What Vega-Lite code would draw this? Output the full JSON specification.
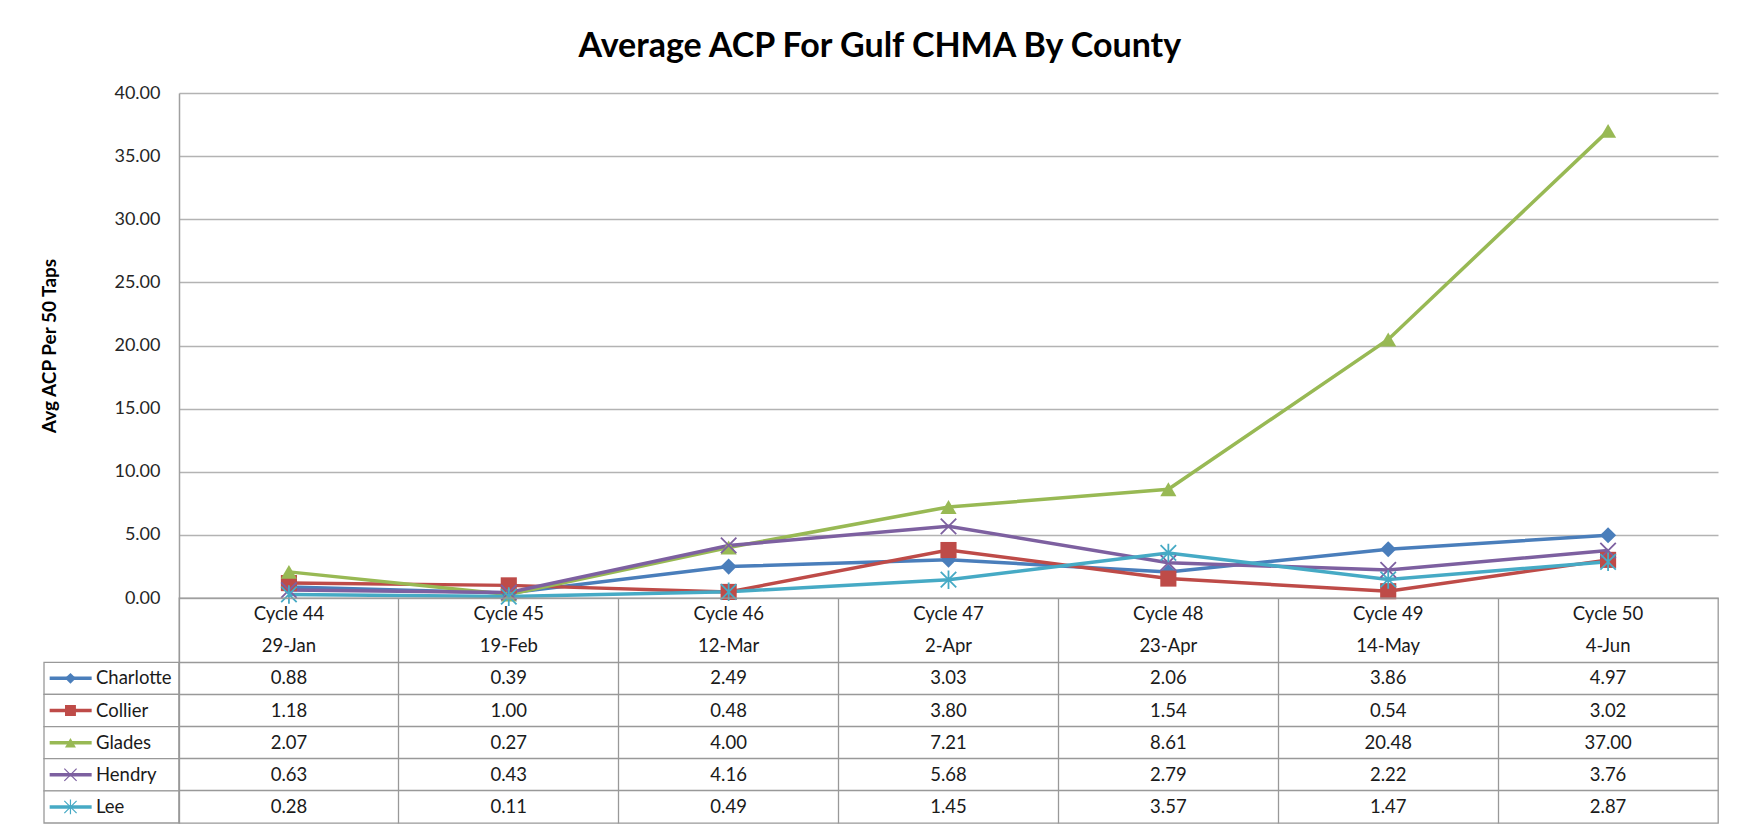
{
  "$schema": "https://vega.github.io/schema/vega-lite/v6.json",
  "background": "white",
  "padding": {"left": 40, "top": 30, "right": 20, "bottom": 6},
  "title": {"text": "Average ACP For Gulf CHMA By County", "font": "Lato", "fontSize": 34, "fontWeight": "bold", "color": "#000000", "anchor": "middle", "offset": 20},
  "config": {"view": {"stroke": null}, "font": "Lato"},
  "datasets": {
    "acp": [
      {"county": "Charlotte", "cycle": "Cycle 44", "date": "29-Jan", "value": 0.88},
      {"county": "Charlotte", "cycle": "Cycle 45", "date": "19-Feb", "value": 0.39},
      {"county": "Charlotte", "cycle": "Cycle 46", "date": "12-Mar", "value": 2.49},
      {"county": "Charlotte", "cycle": "Cycle 47", "date": "2-Apr", "value": 3.03},
      {"county": "Charlotte", "cycle": "Cycle 48", "date": "23-Apr", "value": 2.06},
      {"county": "Charlotte", "cycle": "Cycle 49", "date": "14-May", "value": 3.86},
      {"county": "Charlotte", "cycle": "Cycle 50", "date": "4-Jun", "value": 4.97},
      {"county": "Collier", "cycle": "Cycle 44", "date": "29-Jan", "value": 1.18},
      {"county": "Collier", "cycle": "Cycle 45", "date": "19-Feb", "value": 1.00},
      {"county": "Collier", "cycle": "Cycle 46", "date": "12-Mar", "value": 0.48},
      {"county": "Collier", "cycle": "Cycle 47", "date": "2-Apr", "value": 3.80},
      {"county": "Collier", "cycle": "Cycle 48", "date": "23-Apr", "value": 1.54},
      {"county": "Collier", "cycle": "Cycle 49", "date": "14-May", "value": 0.54},
      {"county": "Collier", "cycle": "Cycle 50", "date": "4-Jun", "value": 3.02},
      {"county": "Glades", "cycle": "Cycle 44", "date": "29-Jan", "value": 2.07},
      {"county": "Glades", "cycle": "Cycle 45", "date": "19-Feb", "value": 0.27},
      {"county": "Glades", "cycle": "Cycle 46", "date": "12-Mar", "value": 4.00},
      {"county": "Glades", "cycle": "Cycle 47", "date": "2-Apr", "value": 7.21},
      {"county": "Glades", "cycle": "Cycle 48", "date": "23-Apr", "value": 8.61},
      {"county": "Glades", "cycle": "Cycle 49", "date": "14-May", "value": 20.48},
      {"county": "Glades", "cycle": "Cycle 50", "date": "4-Jun", "value": 37.00},
      {"county": "Hendry", "cycle": "Cycle 44", "date": "29-Jan", "value": 0.63},
      {"county": "Hendry", "cycle": "Cycle 45", "date": "19-Feb", "value": 0.43},
      {"county": "Hendry", "cycle": "Cycle 46", "date": "12-Mar", "value": 4.16},
      {"county": "Hendry", "cycle": "Cycle 47", "date": "2-Apr", "value": 5.68},
      {"county": "Hendry", "cycle": "Cycle 48", "date": "23-Apr", "value": 2.79},
      {"county": "Hendry", "cycle": "Cycle 49", "date": "14-May", "value": 2.22},
      {"county": "Hendry", "cycle": "Cycle 50", "date": "4-Jun", "value": 3.76},
      {"county": "Lee", "cycle": "Cycle 44", "date": "29-Jan", "value": 0.28},
      {"county": "Lee", "cycle": "Cycle 45", "date": "19-Feb", "value": 0.11},
      {"county": "Lee", "cycle": "Cycle 46", "date": "12-Mar", "value": 0.49},
      {"county": "Lee", "cycle": "Cycle 47", "date": "2-Apr", "value": 1.45},
      {"county": "Lee", "cycle": "Cycle 48", "date": "23-Apr", "value": 3.57},
      {"county": "Lee", "cycle": "Cycle 49", "date": "14-May", "value": 1.47},
      {"county": "Lee", "cycle": "Cycle 50", "date": "4-Jun", "value": 2.87}
    ]
  },
  "columns": 2,
  "spacing": 0,
  "bounds": "flush",
  "align": "each",
  "concat": [
    {
      "width": 135,
      "height": 505,
      "data": {"values": [{}]},
      "mark": {"type": "point", "opacity": 0},
      "encoding": {}
    },
    {
      "width": 1539,
      "height": 505,
      "data": {"name": "acp"},
      "encoding": {
        "x": {"field": "cycle", "type": "nominal", "sort": null, "scale": {"type": "point", "domain": ["Cycle 44", "Cycle 45", "Cycle 46", "Cycle 47", "Cycle 48", "Cycle 49", "Cycle 50"], "padding": 0.5}, "axis": null},
        "y": {"field": "value", "type": "quantitative", "scale": {"domain": [0, 40], "nice": false},
          "axis": {"values": [0, 5, 10, 15, 20, 25, 30, 35, 40], "format": ".2f", "labelFont": "Lato", "labelFontSize": 18, "labelColor": "#262626", "labelPadding": 19, "labelFlush": false, "labelOverlap": false, "ticks": false, "domain": true, "domainColor": "#a0a0a0", "domainWidth": 1.5, "grid": true, "gridColor": "#b3b3b3", "gridWidth": 1.3, "title": "Avg ACP Per 50 Taps", "titleFont": "Lato", "titleFontSize": 19, "titleFontWeight": "bold", "titleColor": "#000000", "titlePadding": 54}},
        "color": {"field": "county", "type": "nominal", "scale": {"domain": ["Charlotte", "Collier", "Glades", "Hendry", "Lee"], "range": ["#4A7EBB", "#BE4B48", "#98B954", "#7D60A0", "#46AAC5"]}, "legend": null}
      },
      "layer": [
        {"mark": {"type": "line", "strokeWidth": 3.5}},
        {
          "transform": [{"filter": {"field": "county", "oneOf": ["Charlotte", "Collier", "Glades"]}}],
          "mark": {"type": "point", "filled": true, "opacity": 1, "size": 260},
          "encoding": {"shape": {"field": "county", "type": "nominal", "scale": {"domain": ["Charlotte", "Collier", "Glades", "Hendry", "Lee"], "range": ["diamond", "square", "triangle-up", "M-1,-1L1,1M-1,1L1,-1", "M-1,-1L1,1M-1,1L1,-1M0,-1.2L0,1.2"]}, "legend": null}}
        },
        {
          "transform": [{"filter": {"field": "county", "oneOf": ["Hendry", "Lee"]}}],
          "mark": {"type": "point", "filled": false, "opacity": 1, "size": 240, "strokeWidth": 1.8},
          "encoding": {"shape": {"field": "county", "type": "nominal", "scale": {"domain": ["Charlotte", "Collier", "Glades", "Hendry", "Lee"], "range": ["diamond", "square", "triangle-up", "M-1,-1L1,1M-1,1L1,-1", "M-1,-1L1,1M-1,1L1,-1M0,-1.2L0,1.2"]}, "legend": null}}
        }
      ]
    },
    {
      "width": 135,
      "height": 225,
      "data": {"name": "acp"},
      "transform": [{"filter": "datum.cycle == 'Cycle 44'"}],
      "encoding": {
        "y": {"field": "county", "type": "nominal", "scale": {"type": "band", "domain": ["h1", "h2", "Charlotte", "Collier", "Glades", "Hendry", "Lee"], "paddingInner": 0, "paddingOuter": 0}, "axis": null},
        "color": {"field": "county", "type": "nominal", "scale": {"domain": ["Charlotte", "Collier", "Glades", "Hendry", "Lee"], "range": ["#4A7EBB", "#BE4B48", "#98B954", "#7D60A0", "#46AAC5"]}, "legend": null}
      },
      "layer": [
        {
          "mark": {"type": "rect", "fill": "white", "stroke": "#999999", "strokeWidth": 1.3},
          "encoding": {"x": {"datum": 0, "type": "quantitative", "scale": {"domain": [0, 1], "nice": false, "zero": false}, "axis": null}, "x2": {"datum": 1}, "color": {"value": "white"}}
        },
        {
          "mark": {"type": "rule", "strokeWidth": 3.5},
          "encoding": {"x": {"datum": 0.042, "type": "quantitative"}, "x2": {"datum": 0.353}}
        },
        {
          "transform": [{"filter": {"field": "county", "oneOf": ["Charlotte", "Collier", "Glades"]}}],
          "mark": {"type": "point", "filled": true, "opacity": 1, "size": 120},
          "encoding": {"x": {"datum": 0.196, "type": "quantitative"}, "shape": {"field": "county", "type": "nominal", "scale": {"domain": ["Charlotte", "Collier", "Glades", "Hendry", "Lee"], "range": ["diamond", "square", "triangle-up", "M-1,-1L1,1M-1,1L1,-1", "M-1,-1L1,1M-1,1L1,-1M0,-1.2L0,1.2"]}, "legend": null}}
        },
        {
          "transform": [{"filter": {"field": "county", "oneOf": ["Hendry", "Lee"]}}],
          "mark": {"type": "point", "filled": false, "opacity": 1, "size": 150, "strokeWidth": 1.2},
          "encoding": {"x": {"datum": 0.196, "type": "quantitative"}, "shape": {"field": "county", "type": "nominal", "scale": {"domain": ["Charlotte", "Collier", "Glades", "Hendry", "Lee"], "range": ["diamond", "square", "triangle-up", "M-1,-1L1,1M-1,1L1,-1", "M-1,-1L1,1M-1,1L1,-1M0,-1.2L0,1.2"]}, "legend": null}}
        },
        {
          "mark": {"type": "text", "align": "left", "baseline": "middle", "font": "Lato", "fontSize": 18.5},
          "encoding": {"x": {"datum": 0.385, "type": "quantitative"}, "text": {"field": "county"}, "color": {"value": "#1a1a1a"}}
        }
      ]
    },
    {
      "width": 1539,
      "height": 225,
      "data": {"name": "acp"},
      "view": {"stroke": "#999999", "strokeWidth": 1.3},
      "encoding": {
        "x": {"field": "cycle", "type": "nominal", "sort": null, "scale": {"type": "band", "domain": ["Cycle 44", "Cycle 45", "Cycle 46", "Cycle 47", "Cycle 48", "Cycle 49", "Cycle 50"], "paddingInner": 0, "paddingOuter": 0},
          "axis": {"orient": "top", "labels": false, "ticks": false, "domain": false, "grid": true, "gridColor": "#999999", "gridWidth": 1.3, "bandPosition": 0, "title": null}}
      },
      "layer": [
        {
          "mark": {"type": "text", "font": "Lato", "fontSize": 18.5, "baseline": "middle"},
          "encoding": {
            "y": {"field": "county", "type": "nominal", "scale": {"type": "band", "domain": ["h1", "h2", "Charlotte", "Collier", "Glades", "Hendry", "Lee"], "paddingInner": 0, "paddingOuter": 0},
              "axis": {"values": ["h2", "Charlotte", "Collier", "Glades", "Hendry"], "bandPosition": 1, "labels": false, "ticks": false, "domain": false, "grid": true, "gridColor": "#999999", "gridWidth": 1.3, "title": null}},
            "text": {"field": "value", "type": "quantitative", "format": ".2f"},
            "color": {"value": "#1a1a1a"}
          }
        },
        {
          "transform": [{"filter": "datum.county == 'Charlotte'"}],
          "mark": {"type": "text", "font": "Lato", "fontSize": 18.5, "baseline": "middle"},
          "encoding": {"y": {"datum": "h1", "type": "nominal"}, "text": {"field": "cycle"}, "color": {"value": "#1a1a1a"}}
        },
        {
          "transform": [{"filter": "datum.county == 'Charlotte'"}],
          "mark": {"type": "text", "font": "Lato", "fontSize": 18.5, "baseline": "middle"},
          "encoding": {"y": {"datum": "h2", "type": "nominal"}, "text": {"field": "date"}, "color": {"value": "#1a1a1a"}}
        }
      ]
    }
  ]
}
